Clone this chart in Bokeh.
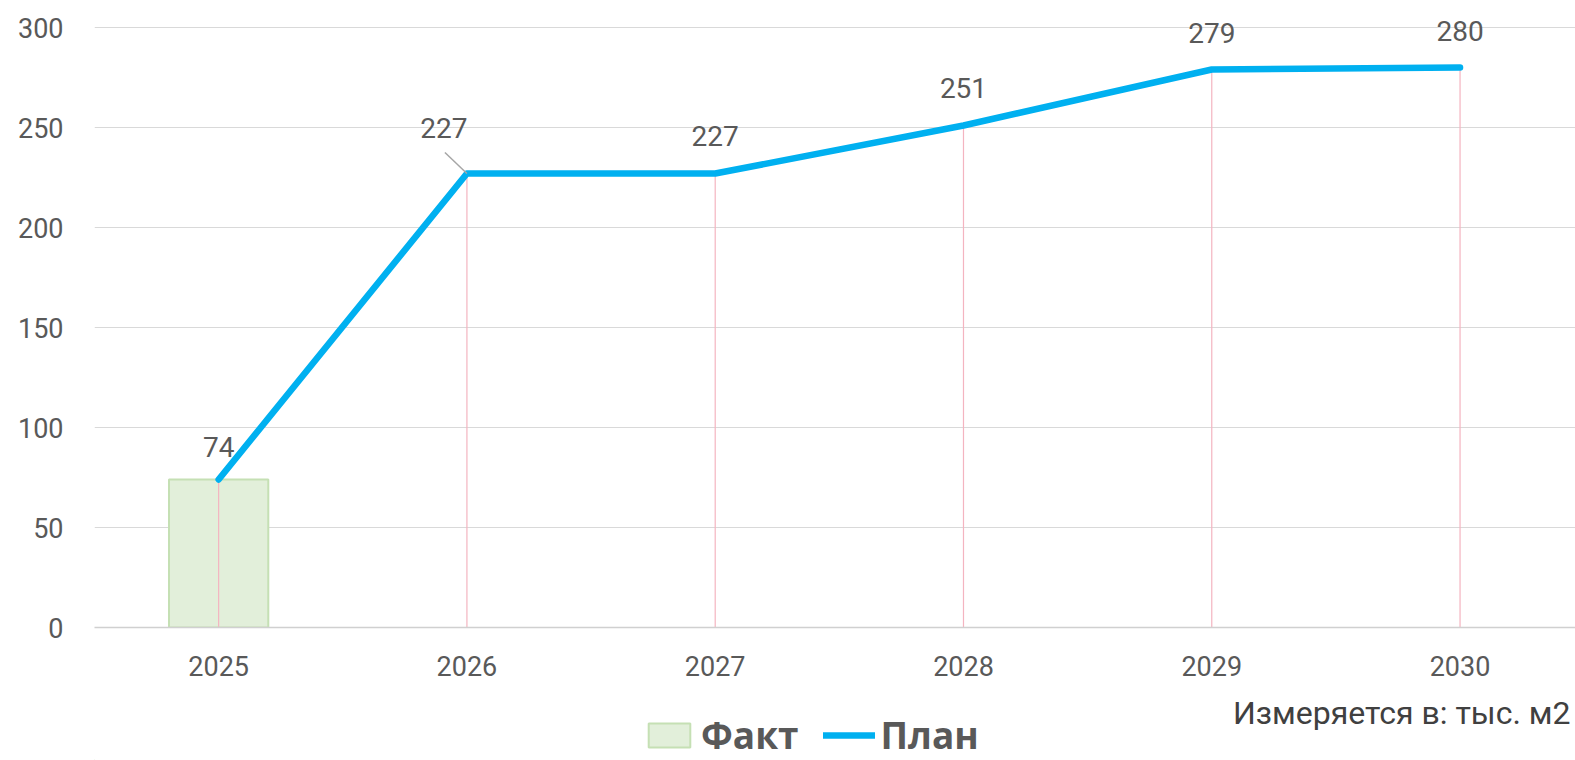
from bokeh.plotting import figure
from bokeh.layouts import column
from bokeh.models import (ColumnDataSource, FixedTicker, Legend, LegendItem, Label)
from bokeh.embed import file_html
from bokeh.resources import INLINE

# ---- data ----
years = ["2025", "2026", "2027", "2028", "2029", "2030"]
plan = [74, 227, 227, 251, 279, 280]
fact_years = ["2025"]
fact = [74]
y_ticks = [0, 50, 100, 150, 200, 250, 300]
unit_note = "Измеряется в: тыс. м2"
legend_labels = ["Факт", "План"]

xs = list(range(len(years)))
fact_x = [years.index(y) for y in fact_years]

# styles / label offsets (screen px)
label_dx = [0, -23, 0, 0, 0, 0]
label_dy = [-33, -46, -38, -38, -37, -37]
BAR_FILL, BAR_LINE = "#e2efda", "#c5e0b4"
LINE_COLOR = "#00b0f0"

p = figure(width=1575, height=688, output_backend="svg", toolbar_location=None,
           x_range=(-0.5, 5.465), y_range=(0, 309.5),
           min_border_left=94, min_border_right=0, min_border_top=8,
           min_border_bottom=61)
p.outline_line_color = None
p.background_fill_color = "white"
p.xgrid.grid_line_color = None
p.ygrid.grid_line_color = "#d9d9d9"
p.ygrid.grid_line_width = 1.2
p.ygrid.ticker = FixedTicker(ticks=y_ticks)

# axes
p.yaxis.ticker = FixedTicker(ticks=y_ticks)
p.yaxis.axis_line_color = None
p.yaxis.major_tick_line_color = None
p.yaxis.minor_tick_line_color = None
p.yaxis.major_label_standoff = 25
p.yaxis.major_label_text_font = "Roboto"
p.yaxis.major_label_text_font_size = "27px"
p.yaxis.major_label_text_color = "#595959"

p.xaxis.ticker = FixedTicker(ticks=xs)
p.xaxis.major_label_overrides = {i: y for i, y in enumerate(years)}
p.xaxis.axis_line_color = "#d0d0d0"
p.xaxis.axis_line_width = 1.5
p.xaxis.major_tick_line_color = None
p.xaxis.minor_tick_line_color = None
p.xaxis.major_label_standoff = 22
p.xaxis.major_label_text_font = "Roboto"
p.xaxis.major_label_text_font_size = "27px"
p.xaxis.major_label_text_color = "#595959"

# bar (fact)
p.vbar(x=fact_x, top=fact, width=0.4, bottom=0,
       fill_color=BAR_FILL, line_color=BAR_LINE, line_width=2)

# drop lines
p.segment(x0=xs, y0=[0] * len(xs), x1=xs, y1=plan, line_color="#f4b4c0", line_width=1.2)

# plan line
p.line(x=xs, y=plan, line_color=LINE_COLOR, line_width=6.5,
       line_cap="round", line_join="round")

# leader line for the moved label (2026)
px_x = 1 / 248.3   # data units per screen px (x)
px_y = 0.5         # data units per screen px (y)
i = 1
p.segment(x0=[xs[i] - 22 * px_x], y0=[plan[i] + 21 * px_y], x1=[xs[i]], y1=[plan[i]],
          line_color="#a6a6a6", line_width=1.5)

# data labels
src = ColumnDataSource(dict(x=xs, y=plan, t=[str(v) for v in plan], dx=label_dx, dy=label_dy))
p.text(x="x", y="y", text="t", x_offset="dx", y_offset="dy", source=src,
       text_align="center", text_baseline="middle",
       text_font_size="28px", text_color="#595959",
       text_font={"value": "Roboto"})

# ---- bottom strip: unit note + legend (frame is aligned with the chart's frame) ----
lg = figure(width=1575, height=72, output_backend="svg", toolbar_location=None,
            x_range=(0, 1), y_range=(0, 1), min_border=0)
lg.axis.visible = False
lg.grid.visible = False
lg.outline_line_color = None
lg.background_fill_color = "white"

lg.add_layout(Label(x=1476, y=48, x_units="screen", y_units="screen", text=unit_note,
                    text_align="right", text_baseline="middle",
                    text_font="Roboto", text_font_size="32px", text_color="#404040"))

# legend sample renderers (placed outside the visible range; only their glyph styles are used)
r_bar = lg.vbar(x=[-5], top=[-5], bottom=[-6], width=0.4,
                fill_color=BAR_FILL, line_color=BAR_LINE, line_width=2)
r_line = lg.line(x=[-5, -4], y=[-5, -5], line_color=LINE_COLOR, line_width=6.5, line_cap="round")
legend = Legend(items=[LegendItem(label=legend_labels[0], renderers=[r_bar]),
                       LegendItem(label=legend_labels[1], renderers=[r_line])],
                orientation="horizontal", location=(549, 0),
                glyph_width=52, glyph_height=30, label_standoff=6, spacing=24,
                padding=0, margin=0, border_line_color=None,
                background_fill_alpha=0,
                label_text_font="Open Sans", label_text_font_style="bold",
                label_text_font_size="37px", label_text_color="#595959",
                label_height=30)
lg.add_layout(legend, "center")

layout = column(p, lg, spacing=0)
open("out.html", "w").write(file_html(layout, INLINE))
